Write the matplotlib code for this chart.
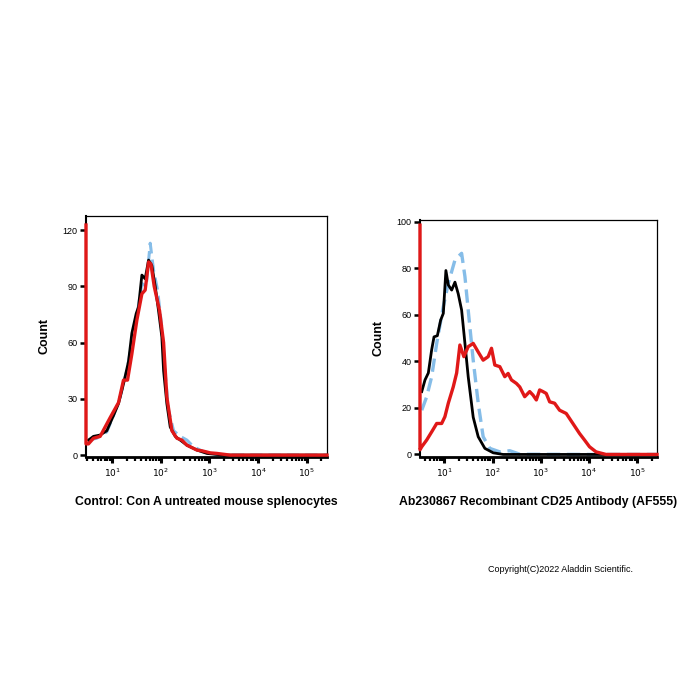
import matplotlib
matplotlib.use("Agg")
import matplotlib.pyplot as plt
from matplotlib.ticker import LogLocator, NullFormatter, FixedLocator

plt.rcParams["font.family"] = ["Liberation Sans", "DejaVu Sans"]

# left panel: Con A untreated splenocytes
l_black_x = [3.26, 4.13, 5.66, 7.76, 10.6, 13.5, 17.1, 21.7, 25.4, 31.2, 34.8,
             40.8, 47.7, 56.0, 65.5, 76.7, 89.8, 105, 114, 133, 156, 198, 251,
             344, 552, 887, 1955, 260000]
l_black_y = [8, 10, 10.7, 13, 21, 27.5, 38, 50, 65, 75.5, 79,
             96, 94, 104, 101, 90, 77, 63, 45, 27.5, 15, 10, 8,
             5.3, 2.7, 0.9, 0, 0]

l_red_x = [2.9, 2.9, 3.26, 4.13, 5.66, 9.1, 13.5, 17.1, 20.7, 25.4, 32.2,
           40.8, 47.7, 56.0, 62.5, 73.1, 94.2, 114, 133, 169, 214, 271,
           344, 552, 700, 1040, 1425, 2680, 260000]
l_red_y = [122.7, 6, 6, 9, 10, 20, 28, 40, 40, 54, 72,
           86, 88, 103, 102, 90, 77, 60, 31, 13, 9, 8,
           5.3, 2.7, 2.3, 1.2, 0.9, 0, 0]

l_blue_x = [3.26, 4.83, 7.76, 10.6, 14.6, 20.0, 25.4, 32.2, 40.8, 50.1, 60.5,
            70.8, 85.7, 105, 123, 144, 183, 251, 344, 472, 757, 1425, 2680,
            260000]
l_blue_y = [8, 9, 12.4, 21, 31, 45, 60, 74, 91.5, 90, 113,
            98.7, 88, 68, 43.5, 24, 13, 10, 8, 4.4, 1.8, 0.4, 0,
            0]

# right panel: CD25 (AF555)
r_black_x = [3.37, 3.94, 4.62, 5.42, 6.06, 7.11, 8.33, 9.46, 10.7, 12.0, 14.1,
             16.5, 19.3, 22.7, 26.6, 31.1, 39.5, 50.2, 69.0, 103, 165, 260000]
r_black_y = [27, 32, 35, 45, 50.5, 51, 57.7, 60.6, 79, 72.8, 70.6,
             74, 69, 62, 47.7, 33.4, 16, 7.6, 2.6, 0.7, 0, 0]

r_blue_x = [3.37, 4.27, 5.42, 6.89, 9.46, 12.0, 16.5, 19.3, 22.7, 26.6, 31.1,
            39.5, 50.2, 63.6, 87.5, 141, 227, 366, 12100, 260000]
r_blue_y = [19, 24.8, 33.4, 47.7, 63.5, 73.5, 83.5, 85, 86.4, 76.4, 62,
            40.5, 22, 7.6, 2.6, 1.1, 1.6, 0.1, 0, 0]

r_red_x = [3.1, 3.1, 3.37, 4.27, 5.42, 6.89, 8.74, 10.2, 12.0, 15.2, 17.9,
           20.9, 25.3, 31.1, 39.5, 50.2, 63.6, 80.8, 94.8, 111, 141, 179,
           210, 246, 312, 366, 464, 589, 690, 809, 948, 1110, 1300, 1530,
           1940, 2460, 3380, 4650, 6390, 8110, 10300, 14100, 22700, 260000]
r_red_y = [98.5, 2, 3.3, 6.2, 9.7, 13.3, 13.3, 16.2, 22, 29, 35,
           47, 42, 46.3, 47.7, 44, 40.5, 42, 45.6, 38.4, 37.7, 33.4,
           34.8, 32, 30.5, 29, 24.8, 27, 25.5, 23.4, 27.7, 27, 26.2, 22.6,
           22, 19, 17.6, 13.3, 9, 6.2, 3.3, 1.1, 0, 0]

fig = plt.figure(figsize=(7, 7), dpi=100)

BLUE = "#86bde8"
RED = "#e01818"


def style_axes(ax, xmin, ylim, yticks):
    ax.set_xscale("log")
    ax.set_xlim(xmin, 2.6e5)
    ax.set_ylim(*ylim)
    ax.xaxis.set_major_locator(FixedLocator([1e1, 1e2, 1e3, 1e4, 1e5]))
    ax.xaxis.set_minor_locator(LogLocator(base=10, subs=range(2, 10), numticks=20))
    ax.xaxis.set_minor_formatter(NullFormatter())
    ax.set_xticklabels([r"$10^{1}$", r"$10^{2}$", r"$10^{3}$", r"$10^{4}$", r"$10^{5}$"])
    ax.set_yticks(yticks)
    ax.tick_params(axis="x", which="major", length=4.5, width=2.2, labelsize=6.5, pad=2.5)
    ax.tick_params(axis="x", which="minor", length=3, width=1.6)
    ax.tick_params(axis="y", which="major", length=4, width=1.8, labelsize=6.5, pad=2)
    for s in ["top", "right"]:
        ax.spines[s].set_linewidth(0.9)
    ax.spines["bottom"].set_linewidth(2.0)
    ax.spines["left"].set_linewidth(1.5)
    ax.set_ylabel("Count", fontsize=9, fontweight="bold", labelpad=9)


ax1 = fig.add_axes([86 / 700, 243 / 700, 241 / 700, 241 / 700])
ax1.plot(l_blue_x, l_blue_y, color=BLUE, lw=2.2, dashes=(4, 2), zorder=2)
ax1.plot(l_black_x, l_black_y, color="black", lw=2.0, zorder=3)
ax1.plot(l_red_x, l_red_y, color=RED, lw=2.4, zorder=4, clip_on=False)
style_axes(ax1, 2.9, (-1, 127.5), [0, 30, 60, 90, 120])
ax1.set_xlabel("Control: Con A untreated mouse splenocytes", fontsize=8.8,
               fontweight="bold", labelpad=12)

ax2 = fig.add_axes([420 / 700, 243 / 700, 237 / 700, 237 / 700])
ax2.plot(r_blue_x, r_blue_y, color=BLUE, lw=2.4, dashes=(4, 2), zorder=2)
ax2.plot(r_black_x, r_black_y, color="black", lw=2.0, zorder=3)
ax2.plot(r_red_x, r_red_y, color=RED, lw=2.4, zorder=4, clip_on=False)
style_axes(ax2, 3.1, (-1.1, 100.7), [0, 20, 40, 60, 80, 100])
ax2.set_xlabel("Ab230867 Recombinant CD25 Antibody (AF555)", fontsize=8.8,
               fontweight="bold", labelpad=12)

fig.text(488 / 700, 1 - 569 / 700, "Copyright(C)2022 Aladdin Scientific.",
         fontsize=6.5, va="center", ha="left")

fig.savefig("out.png", dpi=100)
